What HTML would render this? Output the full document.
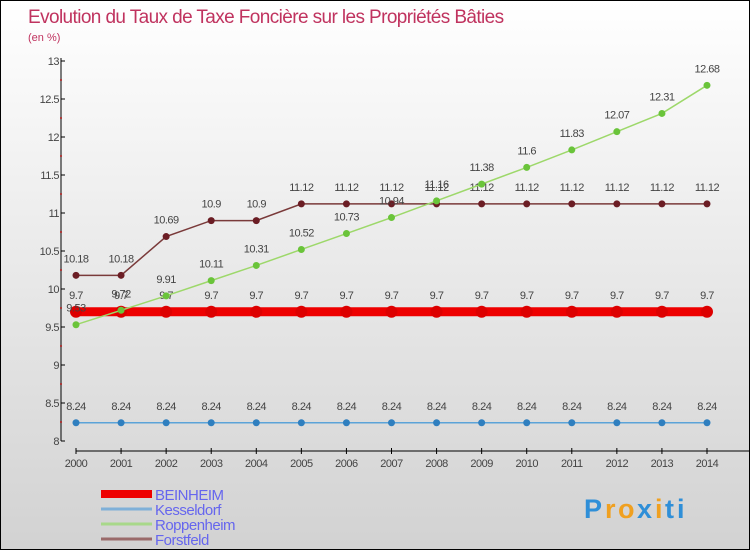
<!DOCTYPE html>
<html><head><meta charset="utf-8"><style>
body{margin:0}
#c{width:750px;height:550px;position:relative;box-sizing:border-box;border:1px solid #000;background:linear-gradient(#fff,#d2d2d2);overflow:hidden;font-family:"Liberation Sans",sans-serif}
</style></head><body>
<div id="c">
<svg id="s" width="750" height="550" style="position:absolute;left:0;top:0"></svg>
</div>
<script>
const years=[2000,2001,2002,2003,2004,2005,2006,2007,2008,2009,2010,2011,2012,2013,2014];
const beinheim=[9.7,9.7,9.7,9.7,9.7,9.7,9.7,9.7,9.7,9.7,9.7,9.7,9.7,9.7,9.7];
const kesseldorf=[8.24,8.24,8.24,8.24,8.24,8.24,8.24,8.24,8.24,8.24,8.24,8.24,8.24,8.24,8.24];
const roppenheim=[9.53,9.72,9.91,10.11,10.31,10.52,10.73,10.94,11.16,11.38,11.6,11.83,12.07,12.31,12.68];
const forstfeld=[10.18,10.18,10.69,10.9,10.9,11.12,11.12,11.12,11.12,11.12,11.12,11.12,11.12,11.12,11.12];
const yTicks=[8,8.5,9,9.5,10,10.5,11,11.5,12,12.5,13];
const yTickLabels=["8","8.5","9","9.5","10","10.5","11","11.5","12","12.5","13"];
const seriesNames=["BEINHEIM","Kesseldorf","Roppenheim","Forstfeld"];
const s=document.getElementById('s');const NS="http://www.w3.org/2000/svg";
const X=i=>75+i*(706-75)/(years.length-1);
const Y=v=>440-(v-8)*76;
function el(t,a,p){const e=document.createElementNS(NS,t);for(const k in a)e.setAttribute(k,a[k]);(p||s).appendChild(e);return e;}
function tx(x,y,str,a){const e=el('text',Object.assign({x:x,y:y},a));e.textContent=str;return e;}
let t=tx(27,22,"Evolution du Taux de Taxe Foncière sur les Propriétés Bâties",{fill:"#c0335f","font-size":"19","letter-spacing":"-0.6"});

t=tx(27,40,"(en %)",{fill:"#c0335f","font-size":"11"});

let ax=el('line',{x1:60,y1:57,x2:60,y2:440,stroke:"#000"});

yTicks.forEach((v,i)=>{el('line',{x1:60,x2:64,y1:Y(v),y2:Y(v),stroke:"#000"});
 if(i<yTicks.length-1)el('line',{x1:59,x2:61,y1:Y(v+0.25),y2:Y(v+0.25),stroke:"#d00"});
 const l=tx(58,Y(v)+4,yTickLabels[i],{fill:"#444","font-size":"11","text-anchor":"end","letter-spacing":"-0.5"});
 });
ax=el('line',{x1:75,y1:450,x2:750,y2:450,stroke:"#000"});

years.forEach((y,i)=>{el('line',{x1:X(i),x2:X(i),y1:447,y2:453,stroke:"#000"});
 const l=tx(X(i),466,String(y),{fill:"#444","font-size":"11","text-anchor":"middle","letter-spacing":"-0.5"});
 });
function series(data,color,w,r,name,dot){
 const g=el('g',{});
 const pts=data.map((v,i)=>X(i)+","+Y(v)).join(" ");
 el('polyline',{points:pts,fill:"none",stroke:color,"stroke-width":w},g);
 data.forEach((v,i)=>{const c=el('circle',{cx:X(i),cy:Y(v),r:r,fill:dot},g);
  
  tx(X(i),Y(v)-13,String(v),{fill:"#444","font-size":"11","text-anchor":"middle","letter-spacing":"-0.5"},g);});
}
series(kesseldorf,"#5ba3d8",1.5,3.5,"kesseldorf","#2f7fbf");
series(beinheim,"#ee0000",9,6,"beinheim","#dd0000");
series(forstfeld,"#7a3a3a",1.5,3.5,"forstfeld","#6b1d24");
series(roppenheim,"#9dd86a",1.5,3.5,"roppenheim","#6ac43a");
const lc=["#ee0000","#7fb0d8","#a8d88a","#9a6a6a"],lw=[8,3,3,3];
seriesNames.forEach((n,i)=>{const g=el('g',{});
 const y=493+i*15;el('line',{x1:100,x2:151,y1:y,y2:y,stroke:lc[i],"stroke-width":lw[i]},g);
 tx(154,y+6,n,{fill:"#6666ee","font-size":"15","letter-spacing":"-0.5"},g);});
const lg=el('g',{});
const cols=["#2f8fd8","#f0a020","#f0a020","#2f8fd8","#f0a020","#2f8fd8","#2f8fd8"];
const lx=[583,604,617,636,654,664,676];
"Proxiti".split("").forEach((ch,i)=>tx(lx[i],517,ch,{fill:cols[i],"font-size":"27","font-weight":"bold"},lg));
</script>
</body></html>
